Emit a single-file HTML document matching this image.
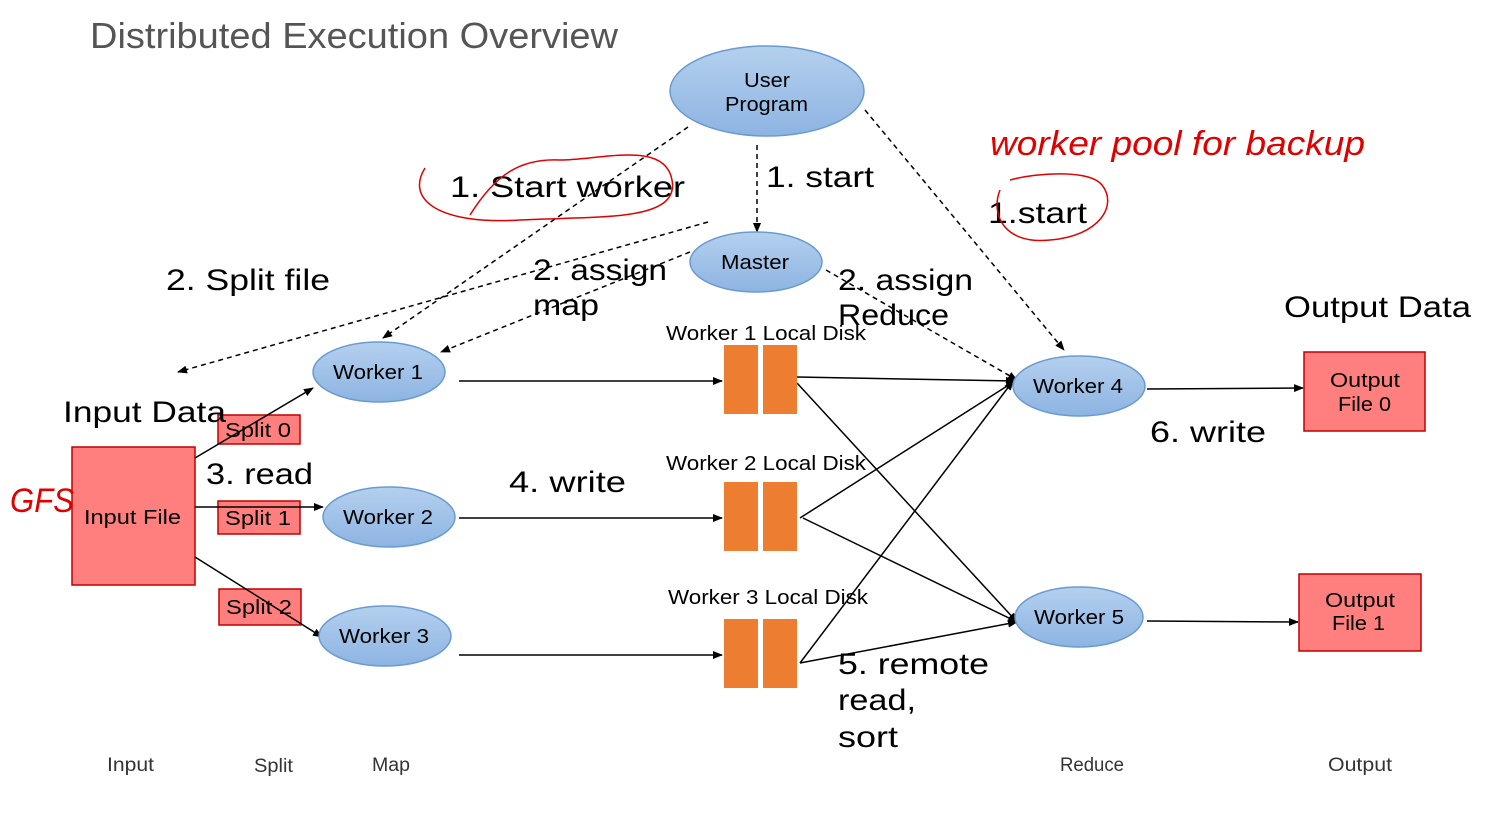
<!DOCTYPE html>
<html><head><meta charset="utf-8">
<style>
html,body{margin:0;padding:0;background:#fff;}
svg{display:block;}
text{font-family:"Liberation Sans","Noto Sans CJK SC",sans-serif;}
</style></head>
<body>
<svg width="1497" height="829" viewBox="0 0 1497 829" xmlns="http://www.w3.org/2000/svg">
<defs>
<linearGradient id="g" x1="0" y1="0" x2="0" y2="1">
<stop offset="0" stop-color="#b4d0ee"/><stop offset="1" stop-color="#8db4e2"/>
</linearGradient>
<marker id="a" markerWidth="10" markerHeight="8" refX="9" refY="4" orient="auto" markerUnits="userSpaceOnUse">
<path d="M0,0 L10,4 L0,8 z" fill="#000"/></marker>
</defs>

<text x="90" y="48" font-size="36" fill="#555" textLength="528" lengthAdjust="spacingAndGlyphs">Distributed Execution Overview</text>

<g stroke="#000" stroke-width="1.5" stroke-dasharray="5,4" fill="none">
<line x1="688" y1="127" x2="383" y2="338" marker-end="url(#a)"/>
<line x1="757" y1="145" x2="757" y2="232" marker-end="url(#a)"/>
<line x1="865" y1="110" x2="1064" y2="350" marker-end="url(#a)"/>
<line x1="708" y1="222" x2="178" y2="372" marker-end="url(#a)"/>
<line x1="690" y1="252" x2="441" y2="352" marker-end="url(#a)"/>
<line x1="826" y1="270" x2="1017" y2="380" marker-end="url(#a)"/>
</g>

<g stroke="#000" stroke-width="1.5" fill="none">
<line x1="459" y1="381" x2="722" y2="381" marker-end="url(#a)"/>
<line x1="459" y1="518" x2="722" y2="518" marker-end="url(#a)"/>
<line x1="459" y1="655" x2="722" y2="655" marker-end="url(#a)"/>
<line x1="797" y1="377" x2="1015" y2="381" marker-end="url(#a)"/>
<line x1="797" y1="383" x2="1017" y2="622" marker-end="url(#a)"/>
<line x1="800" y1="518" x2="1015" y2="381" marker-end="url(#a)"/>
<line x1="803" y1="518" x2="1017" y2="622" marker-end="url(#a)"/>
<line x1="800" y1="663" x2="1013" y2="381" marker-end="url(#a)"/>
<line x1="800" y1="663" x2="1017" y2="622" marker-end="url(#a)"/>
<line x1="1147" y1="389" x2="1303" y2="388" marker-end="url(#a)"/>
<line x1="1147" y1="621" x2="1298" y2="622" marker-end="url(#a)"/>
</g>

<rect x="72" y="447" width="123" height="138" fill="#ff7f7f" stroke="#c00000" stroke-width="1.5"/>
<text x="84" y="524" font-size="20" textLength="97" lengthAdjust="spacingAndGlyphs">Input File</text>
<rect x="218" y="415" width="82" height="29" fill="#ff7f7f" stroke="#c00000" stroke-width="1.5"/>
<text x="225" y="437" font-size="20" textLength="66" lengthAdjust="spacingAndGlyphs">Split 0</text>
<rect x="218" y="501" width="82" height="33" fill="#ff7f7f" stroke="#c00000" stroke-width="1.5"/>
<text x="225" y="525" font-size="20" textLength="66" lengthAdjust="spacingAndGlyphs">Split 1</text>
<rect x="219" y="589" width="82" height="36" fill="#ff7f7f" stroke="#c00000" stroke-width="1.5"/>
<text x="226" y="614" font-size="20" textLength="66" lengthAdjust="spacingAndGlyphs">Split 2</text>
<g stroke="#000" stroke-width="1.5" fill="none">
<line x1="195" y1="458" x2="313" y2="388" marker-end="url(#a)"/>
<line x1="195" y1="507" x2="323" y2="507" marker-end="url(#a)"/>
<line x1="195" y1="557" x2="322" y2="637" marker-end="url(#a)"/>
</g>

<g fill="url(#g)" stroke="#6a9bd0" stroke-width="1.5">
<ellipse cx="767" cy="91" rx="97" ry="45"/>
<ellipse cx="756" cy="262" rx="66" ry="30"/>
<ellipse cx="379" cy="372" rx="66" ry="30"/>
<ellipse cx="389" cy="517" rx="66" ry="30"/>
<ellipse cx="385" cy="636" rx="66" ry="30"/>
<ellipse cx="1079" cy="386" rx="66" ry="30"/>
<ellipse cx="1079" cy="617" rx="64" ry="30"/>
</g>
<g font-size="20">
<text x="744" y="87" textLength="46" lengthAdjust="spacingAndGlyphs">User</text>
<text x="725" y="111" textLength="83" lengthAdjust="spacingAndGlyphs">Program</text>
<text x="721" y="269" textLength="68" lengthAdjust="spacingAndGlyphs">Master</text>
<text x="333" y="379" textLength="90" lengthAdjust="spacingAndGlyphs">Worker 1</text>
<text x="343" y="524" textLength="90" lengthAdjust="spacingAndGlyphs">Worker 2</text>
<text x="339" y="643" textLength="90" lengthAdjust="spacingAndGlyphs">Worker 3</text>
<text x="1033" y="393" textLength="90" lengthAdjust="spacingAndGlyphs">Worker 4</text>
<text x="1034" y="624" textLength="90" lengthAdjust="spacingAndGlyphs">Worker 5</text>
</g>

<g fill="#ed7d31">
<rect x="724" y="345" width="34" height="69"/><rect x="763" y="345" width="34" height="69"/>
<rect x="724" y="482" width="34" height="69"/><rect x="763" y="482" width="34" height="69"/>
<rect x="724" y="619" width="34" height="69"/><rect x="763" y="619" width="34" height="69"/>
</g>
<g font-size="20">
<text x="666" y="340" textLength="200" lengthAdjust="spacingAndGlyphs">Worker 1 Local Disk</text>
<text x="666" y="470" textLength="200" lengthAdjust="spacingAndGlyphs">Worker 2 Local Disk</text>
<text x="668" y="604" textLength="200" lengthAdjust="spacingAndGlyphs">Worker 3 Local Disk</text>
</g>

<rect x="1304" y="352" width="121" height="79" fill="#ff7f7f" stroke="#c00000" stroke-width="1.5"/>
<text x="1330" y="387" font-size="20" textLength="70" lengthAdjust="spacingAndGlyphs">Output</text>
<text x="1338" y="411" font-size="20" textLength="53" lengthAdjust="spacingAndGlyphs">File 0</text>
<rect x="1299" y="574" width="122" height="77" fill="#ff7f7f" stroke="#c00000" stroke-width="1.5"/>
<text x="1325" y="607" font-size="20" textLength="70" lengthAdjust="spacingAndGlyphs">Output</text>
<text x="1332" y="630" font-size="20" textLength="53" lengthAdjust="spacingAndGlyphs">File 1</text>

<g font-size="30" fill="#000" lengthAdjust="spacingAndGlyphs">
<text x="450" y="197" textLength="235" lengthAdjust="spacingAndGlyphs">1. Start worker</text>
<text x="766" y="187" textLength="108" lengthAdjust="spacingAndGlyphs">1. start</text>
<text x="166" y="290" textLength="164" lengthAdjust="spacingAndGlyphs">2. Split file</text>
<text x="533" y="280" textLength="134" lengthAdjust="spacingAndGlyphs">2. assign</text>
<text x="533" y="315" textLength="66" lengthAdjust="spacingAndGlyphs">map</text>
<text x="838" y="290" textLength="135" lengthAdjust="spacingAndGlyphs">2. assign</text>
<text x="838" y="325" textLength="111" lengthAdjust="spacingAndGlyphs">Reduce</text>
<text x="1284" y="317" textLength="187" lengthAdjust="spacingAndGlyphs">Output Data</text>
<text x="63" y="422" textLength="163" lengthAdjust="spacingAndGlyphs">Input Data</text>
<text x="206" y="484" textLength="107" lengthAdjust="spacingAndGlyphs">3. read</text>
<text x="509" y="492" textLength="117" lengthAdjust="spacingAndGlyphs">4. write</text>
<text x="1150" y="442" textLength="116" lengthAdjust="spacingAndGlyphs">6. write</text>
<text x="838" y="674" textLength="151" lengthAdjust="spacingAndGlyphs">5. remote</text>
<text x="838" y="710" textLength="78" lengthAdjust="spacingAndGlyphs">read,</text>
<text x="838" y="747" textLength="60" lengthAdjust="spacingAndGlyphs">sort</text>
<text x="988" y="223" textLength="99" lengthAdjust="spacingAndGlyphs">1.start</text>
</g>

<g font-size="19" fill="#333">
<text x="107" y="771" textLength="47" lengthAdjust="spacingAndGlyphs">Input</text>
<text x="254" y="772" textLength="39" lengthAdjust="spacingAndGlyphs">Split</text>
<text x="372" y="771" textLength="38" lengthAdjust="spacingAndGlyphs">Map</text>
<text x="1060" y="771" textLength="64" lengthAdjust="spacingAndGlyphs">Reduce</text>
<text x="1328" y="771" textLength="64" lengthAdjust="spacingAndGlyphs">Output</text>
</g>

<g stroke="#e00000" stroke-width="1.5" fill="none">
<path d="M425,168 C405,200 440,225 520,220 C600,216 680,222 672,180 C665,140 600,160 560,160 C520,158 495,175 470,215"/>
<path d="M1000,190 C990,215 1005,245 1050,240 C1100,236 1118,205 1102,185 C1090,170 1040,172 1010,180"/>
</g>
<text x="990" y="155" font-size="34" fill="#e00000" font-style="italic" font-family="'Liberation Serif',serif" textLength="375" lengthAdjust="spacingAndGlyphs">worker pool for backup</text>
<text x="10" y="512" font-size="34" fill="#e00000" font-style="italic" font-family="'Liberation Serif',serif" textLength="64" lengthAdjust="spacingAndGlyphs">GFS</text>
</svg>
</body></html>
